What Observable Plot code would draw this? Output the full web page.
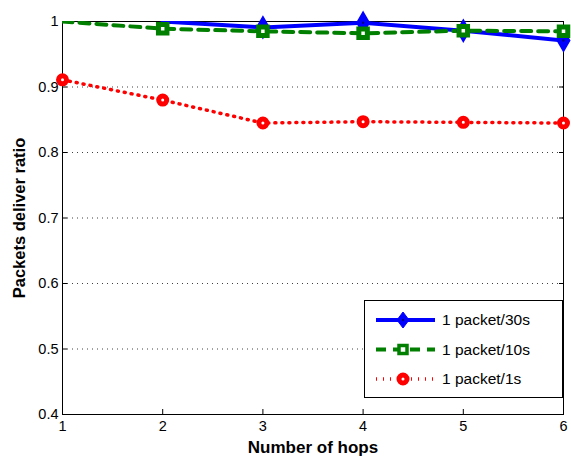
<!DOCTYPE html>
<html><head><meta charset="utf-8">
<script src="https://cdn.jsdelivr.net/npm/d3@7"></script>
<script src="https://cdn.jsdelivr.net/npm/@observablehq/plot@0.6"></script>
<style>
body{margin:0;background:#fff;font-family:"Liberation Sans",Arial,sans-serif;}
#wrap{position:relative;width:571px;height:457px;}
#legend{position:absolute;left:0;top:0;}
</style></head>
<body><div id="wrap"></div>
<script>
const hops = [1, 2, 3, 4, 5, 6];
const rate30 = [null, 1.0, 0.991, 0.998, 0.986, 0.971];
const rate10 = [1.0, 0.989, 0.985, 0.982, 0.986, 0.985];
const rate1 = [0.911, 0.880, 0.845, 0.847, 0.846, 0.845];
const yTicks = [0.4, 0.5, 0.6, 0.7, 0.8, 0.9, 1];
const seriesNames = ["1 packet/30s", "1 packet/10s", "1 packet/1s"];

const d30 = hops.map((h, i) => ({h, v: rate30[i]})).filter(d => d.v != null);
const d10 = hops.map((h, i) => ({h, v: rate10[i]}));
const d1 = hops.map((h, i) => ({h, v: rate1[i]}));
// markers sitting on the top edge (value 1) are clipped away in the original
const inside = d => d.v < 1;

const font = "Liberation Sans, Arial, sans-serif";
const chart = Plot.plot({
  width: 571, height: 457,
  marginLeft: 62, marginRight: 8, marginTop: 21, marginBottom: 43,
  style: {fontFamily: font, fontSize: "14px", color: "black", background: "white", overflow: "visible"},
  x: {domain: [1, 6]},
  y: {domain: [0.4, 1]},
  marks: [
    Plot.gridY(yTicks.slice(1, -1), {stroke: "black", strokeOpacity: 0.75, strokeDasharray: "1,4"}),
    Plot.frame({stroke: "black", strokeWidth: 1}),
    Plot.axisX(hops, {anchor: "bottom", tickSize: -5, tickPadding: 11, label: null, tickFormat: d => String(d), fontSize: 14.5}),
    Plot.axisX(hops, {anchor: "top", tickSize: -5, tickFormat: () => "", label: null}),
    Plot.axisY(yTicks, {anchor: "left", tickSize: -5, tickPadding: 9, label: null, tickFormat: d => String(d), fontSize: 14.5}),
    Plot.axisY(yTicks, {anchor: "right", tickSize: -5, tickFormat: () => "", label: null}),
    Plot.line(d30, {x: "h", y: "v", stroke: "#0000ff", strokeWidth: 4, clip: true}),
    Plot.line(d10, {x: "h", y: "v", stroke: "#007f00", strokeWidth: 4, strokeDasharray: "10,7", clip: true}),
    Plot.line(d1, {x: "h", y: "v", stroke: "#ff0000", strokeWidth: 3.5, strokeDasharray: "1,6", clip: true}),
    Plot.dot(d30, {filter: inside, x: "h", y: "v", symbol: "diamond", r: 6.5, fill: "#0000ff", stroke: "#0000ff", strokeWidth: 1.5}),
    Plot.dot(d30, {filter: inside, x: "h", y: "v", r: 1.2, fill: "#00007f"}),
    Plot.dot(d10, {filter: inside, x: "h", y: "v", symbol: "square", r: 4.8, fill: "white", stroke: "#007f00", strokeWidth: 5}),
    Plot.dot(d1, {filter: inside, x: "h", y: "v", r: 4, fill: "white", stroke: "#ff0000", strokeWidth: 5}),
    Plot.text(["Number of hops"], {frameAnchor: "bottom", lineAnchor: "middle", dy: 33, fontWeight: "bold", fontSize: 17}),
    Plot.text(["Packets deliver ratio"], {frameAnchor: "left", textAnchor: "middle", dx: -43, rotate: -90, fontWeight: "bold", fontSize: 16.5})
  ]
});
document.getElementById("wrap").appendChild(chart);

// Legend overlay
const lg = d3.select("#wrap").append("svg").attr("id", "legend").attr("width", 571).attr("height", 457)
  .style("font-family", font);
lg.append("rect").attr("x", 364.5).attr("y", 300.5).attr("width", 198).attr("height", 97)
  .attr("fill", "white").attr("stroke", "black");
const styles = [
  {color: "#0000ff", dash: null, sym: "diamond", w: 4},
  {color: "#007f00", dash: "10,7", sym: "square", w: 4},
  {color: "#ff0000", dash: "1,6", sym: "circle", w: 3.5}
];
seriesNames.forEach((name, i) => {
  const y = 320 + i * 29.5;
  const s = styles[i];
  lg.append("line").attr("x1", 376).attr("x2", 435).attr("y1", y).attr("y2", y)
    .attr("stroke", s.color).attr("stroke-width", s.w).attr("stroke-dasharray", s.dash);
  if (s.sym === "diamond") {
    lg.append("path").attr("d", `M403,${y-8}L409,${y}L403,${y+8}L397,${y}Z`).attr("fill", s.color).attr("stroke", s.color);
    lg.append("circle").attr("cx", 403).attr("cy", y).attr("r", 1.2).attr("fill", "#00007f");
  } else if (s.sym === "square") {
    lg.append("rect").attr("x", 399).attr("y", y - 4).attr("width", 8).attr("height", 8)
      .attr("fill", "white").attr("stroke", s.color).attr("stroke-width", 3.5);
  } else {
    lg.append("circle").attr("cx", 403).attr("cy", y).attr("r", 4).attr("fill", "white")
      .attr("stroke", s.color).attr("stroke-width", 5);
  }
  lg.append("text").attr("x", 442).attr("y", y).attr("dy", "0.35em").attr("font-size", 15.5).text(name);
});
</script></body></html>
